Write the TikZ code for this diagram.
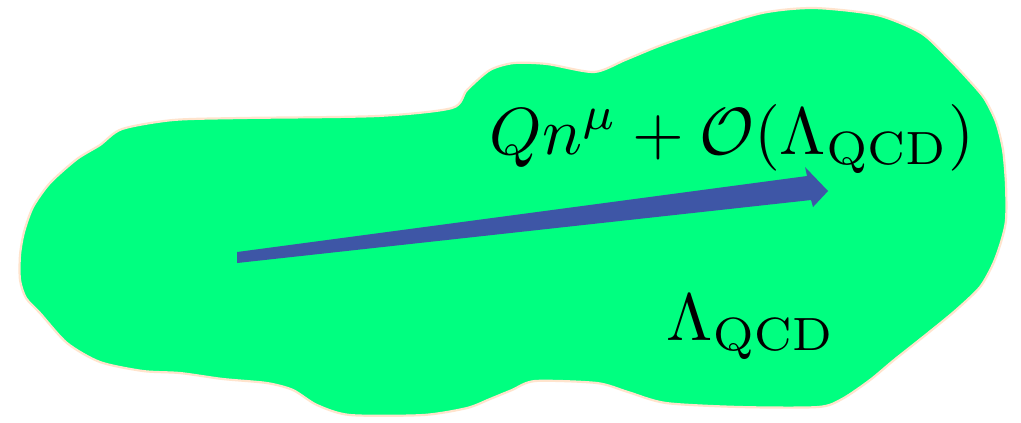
\documentclass[tikz,border=0pt]{standalone}
\definecolor{blobgreen}{RGB}{0,255,128}
\definecolor{arrowblue}{RGB}{62,86,166}
\definecolor{halo}{RGB}{255,228,205}
\tikzset{
  blob/.style={fill=blobgreen, draw=halo, line width=0.3pt, line join=round},
  vec/.style={fill=arrowblue, draw=none},
  lab/.style={inner sep=0pt, anchor=base, text=black}
}
\begin{document}
\begin{tikzpicture}[x=0.1366pt, y=-0.1366pt]
\useasboundingbox (0,0) rectangle (1021,422);
\fill[white] (0,0) rectangle (1021,422);
% blob
\draw[blob] plot[smooth cycle, tension=0.45] coordinates {
 (20,255) (24,232) (33,207) (50,183) (77,159) (100,145) (122,129) (173,120)
 (240,118) (377,116) (452,108) (467,90) (490,70) (514,63) (547,64) (594,72)
 (625,60) (659,46) (699,32) (762,13) (814,8) (877,15) (921,33) (947,57)
 (966,77) (984,98) (996,122) (1003,150) (1006,185) (1006,220) (1001,242)
 (993,264) (980,287) (956,310) (928,333) (894,360) (870,380) (842,399)
 (818,407) (740,407) (666,403) (628,392) (597,383) (535,381) (512,390)
 (490,399) (467,408) (423,415) (350,415) (317,405) (293,390) (267,383)
 (223,379) (180,373) (143,371) (100,362) (67,343) (40,313) (26,298) (20,280)
};
% arrow
\coordinate (tail) at (237,257.5);
\coordinate (tip) at (828,191);
\fill[vec] (237,252) -- (807,176) -- (805,167) -- (tip) -- (813,207) -- (811,200) -- (237,263) -- cycle;
% labels
\node[lab] (mom) at (732,154) {\scalebox{0.91}{$Qn^{\mu}+\mathcal{O}(\Lambda_{\mathrm{QCD}})$}};
\node[lab] (soft) at (751,340) {\scalebox{0.91}{$\Lambda_{\mathrm{QCD}}$}};
\end{tikzpicture}
\end{document}
